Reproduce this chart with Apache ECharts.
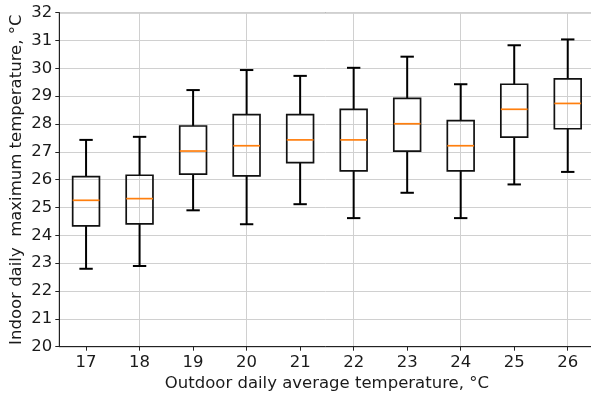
<!DOCTYPE html>
<html><head><meta charset="utf-8">
<script src="https://cdn.jsdelivr.net/npm/echarts@6/dist/echarts.min.js"></script>
<style>html,body{margin:0;padding:0;background:#fff}#c{width:591px;height:394px}</style>
</head><body><div id="c"></div>
<script>
const categories = [17, 18, 19, 20, 21, 22, 23, 24, 25, 26];
const whiskerLow = [22.8, 22.9, 24.9, 24.4, 25.12, 24.62, 25.53, 24.62, 25.83, 26.28];
const q1 = [24.34, 24.41, 26.2, 26.14, 26.61, 26.32, 27.03, 26.32, 27.53, 27.83];
const median = [25.26, 25.32, 27.03, 27.22, 27.43, 27.43, 28.01, 27.22, 28.53, 28.74];
const q3 = [26.11, 26.16, 27.93, 28.34, 28.34, 28.53, 28.92, 28.12, 29.43, 29.62];
const whiskerHigh = [27.43, 27.54, 29.22, 29.94, 29.73, 30.02, 30.42, 29.43, 30.83, 31.04];
const yTicks = [20, 21, 22, 23, 24, 25, 26, 27, 28, 29, 30, 31, 32];
const xName = 'Outdoor daily average temperature, °C';
const yName = 'Indoor daily  maximum temperature, °C';

const data = categories.map((c, i) => [c, whiskerLow[i], q1[i], median[i], q3[i], whiskerHigh[i]]);
const FONT = 'DejaVu Sans';
const TXT = '#1a1a1a';
const GRIDC = '#d0d0d0';

function renderItem(params, api) {
  const x = api.value(0);
  const w = api.size([1, 0])[0];
  const c = v => api.coord([x, v]);
  const pLow = c(api.value(1)), pQ1 = c(api.value(2)), pMed = c(api.value(3)),
        pQ3 = c(api.value(4)), pHigh = c(api.value(5));
  const cx = pLow[0];
  const hb = w * 0.25, hc = w * 0.125;
  const wk = {stroke: '#000', lineWidth: 2};
  return {type: 'group', children: [
    {type: 'line', shape: {x1: cx, y1: pQ1[1], x2: cx, y2: pLow[1]}, style: wk},
    {type: 'line', shape: {x1: cx, y1: pQ3[1], x2: cx, y2: pHigh[1]}, style: wk},
    {type: 'line', shape: {x1: cx - hc, y1: pLow[1], x2: cx + hc, y2: pLow[1]}, style: wk},
    {type: 'line', shape: {x1: cx - hc, y1: pHigh[1], x2: cx + hc, y2: pHigh[1]}, style: wk},
    {type: 'rect', shape: {x: cx - hb, y: pQ3[1], width: 2 * hb, height: pQ1[1] - pQ3[1]},
      style: {fill: 'none', stroke: '#111', lineWidth: 1.7}},
    {type: 'line', shape: {x1: cx - hb, y1: pMed[1], x2: cx + hb, y2: pMed[1]},
      style: {stroke: '#ff7f0e', lineWidth: 1.7}}
  ]};
}

const chart = echarts.init(document.getElementById('c'), null, {renderer: 'canvas'});
chart.setOption({
  animation: false,
  backgroundColor: '#fff',
  grid: {left: 59.3, right: -3.5, top: 12.7, bottom: 47.3, show: true, borderColor: '#222', borderWidth: 1,
    containLabel: false, outerBoundsMode: 'none'},
  xAxis: {
    type: 'value', min: categories[0] - 0.5, max: categories[categories.length - 1] + 0.5, interval: 0.5,
    name: xName, nameLocation: 'middle', nameGap: 29, nameMoveOverlap: false,
    nameTextStyle: {fontFamily: FONT, fontSize: 16.5, color: TXT},
    axisLine: {show: true, lineStyle: {color: '#222', width: 1}},
    axisTick: {show: true, inside: false, length: 4, lineStyle: {color: '#222'}, customValues: categories},
    axisLabel: {fontFamily: FONT, fontSize: 16.5, color: TXT, margin: 8, customValues: categories,
      formatter: v => (Math.abs(v - Math.round(v)) < 1e-6 ? String(Math.round(v)) : '')},
    splitLine: {show: true, lineStyle: {color: ['rgba(0,0,0,0)', GRIDC], width: 1}}
  },
  yAxis: {
    type: 'value', min: yTicks[0], max: yTicks[yTicks.length - 1], interval: 1,
    name: yName, nameLocation: 'middle', nameGap: 34, nameMoveOverlap: false,
    nameTextStyle: {fontFamily: FONT, fontSize: 16.5, color: TXT},
    axisLine: {show: true, lineStyle: {color: '#222', width: 1}},
    axisTick: {show: true, inside: false, length: 4, lineStyle: {color: '#222'}},
    axisLabel: {fontFamily: FONT, fontSize: 16.5, color: TXT, margin: 7},
    splitLine: {show: true, lineStyle: {color: GRIDC, width: 1}}
  },
  series: [{
    type: 'custom', renderItem: renderItem, data: data,
    encode: {x: 0, y: [1, 2, 3, 4, 5]}, clip: false
  }]
});
</script></body></html>
